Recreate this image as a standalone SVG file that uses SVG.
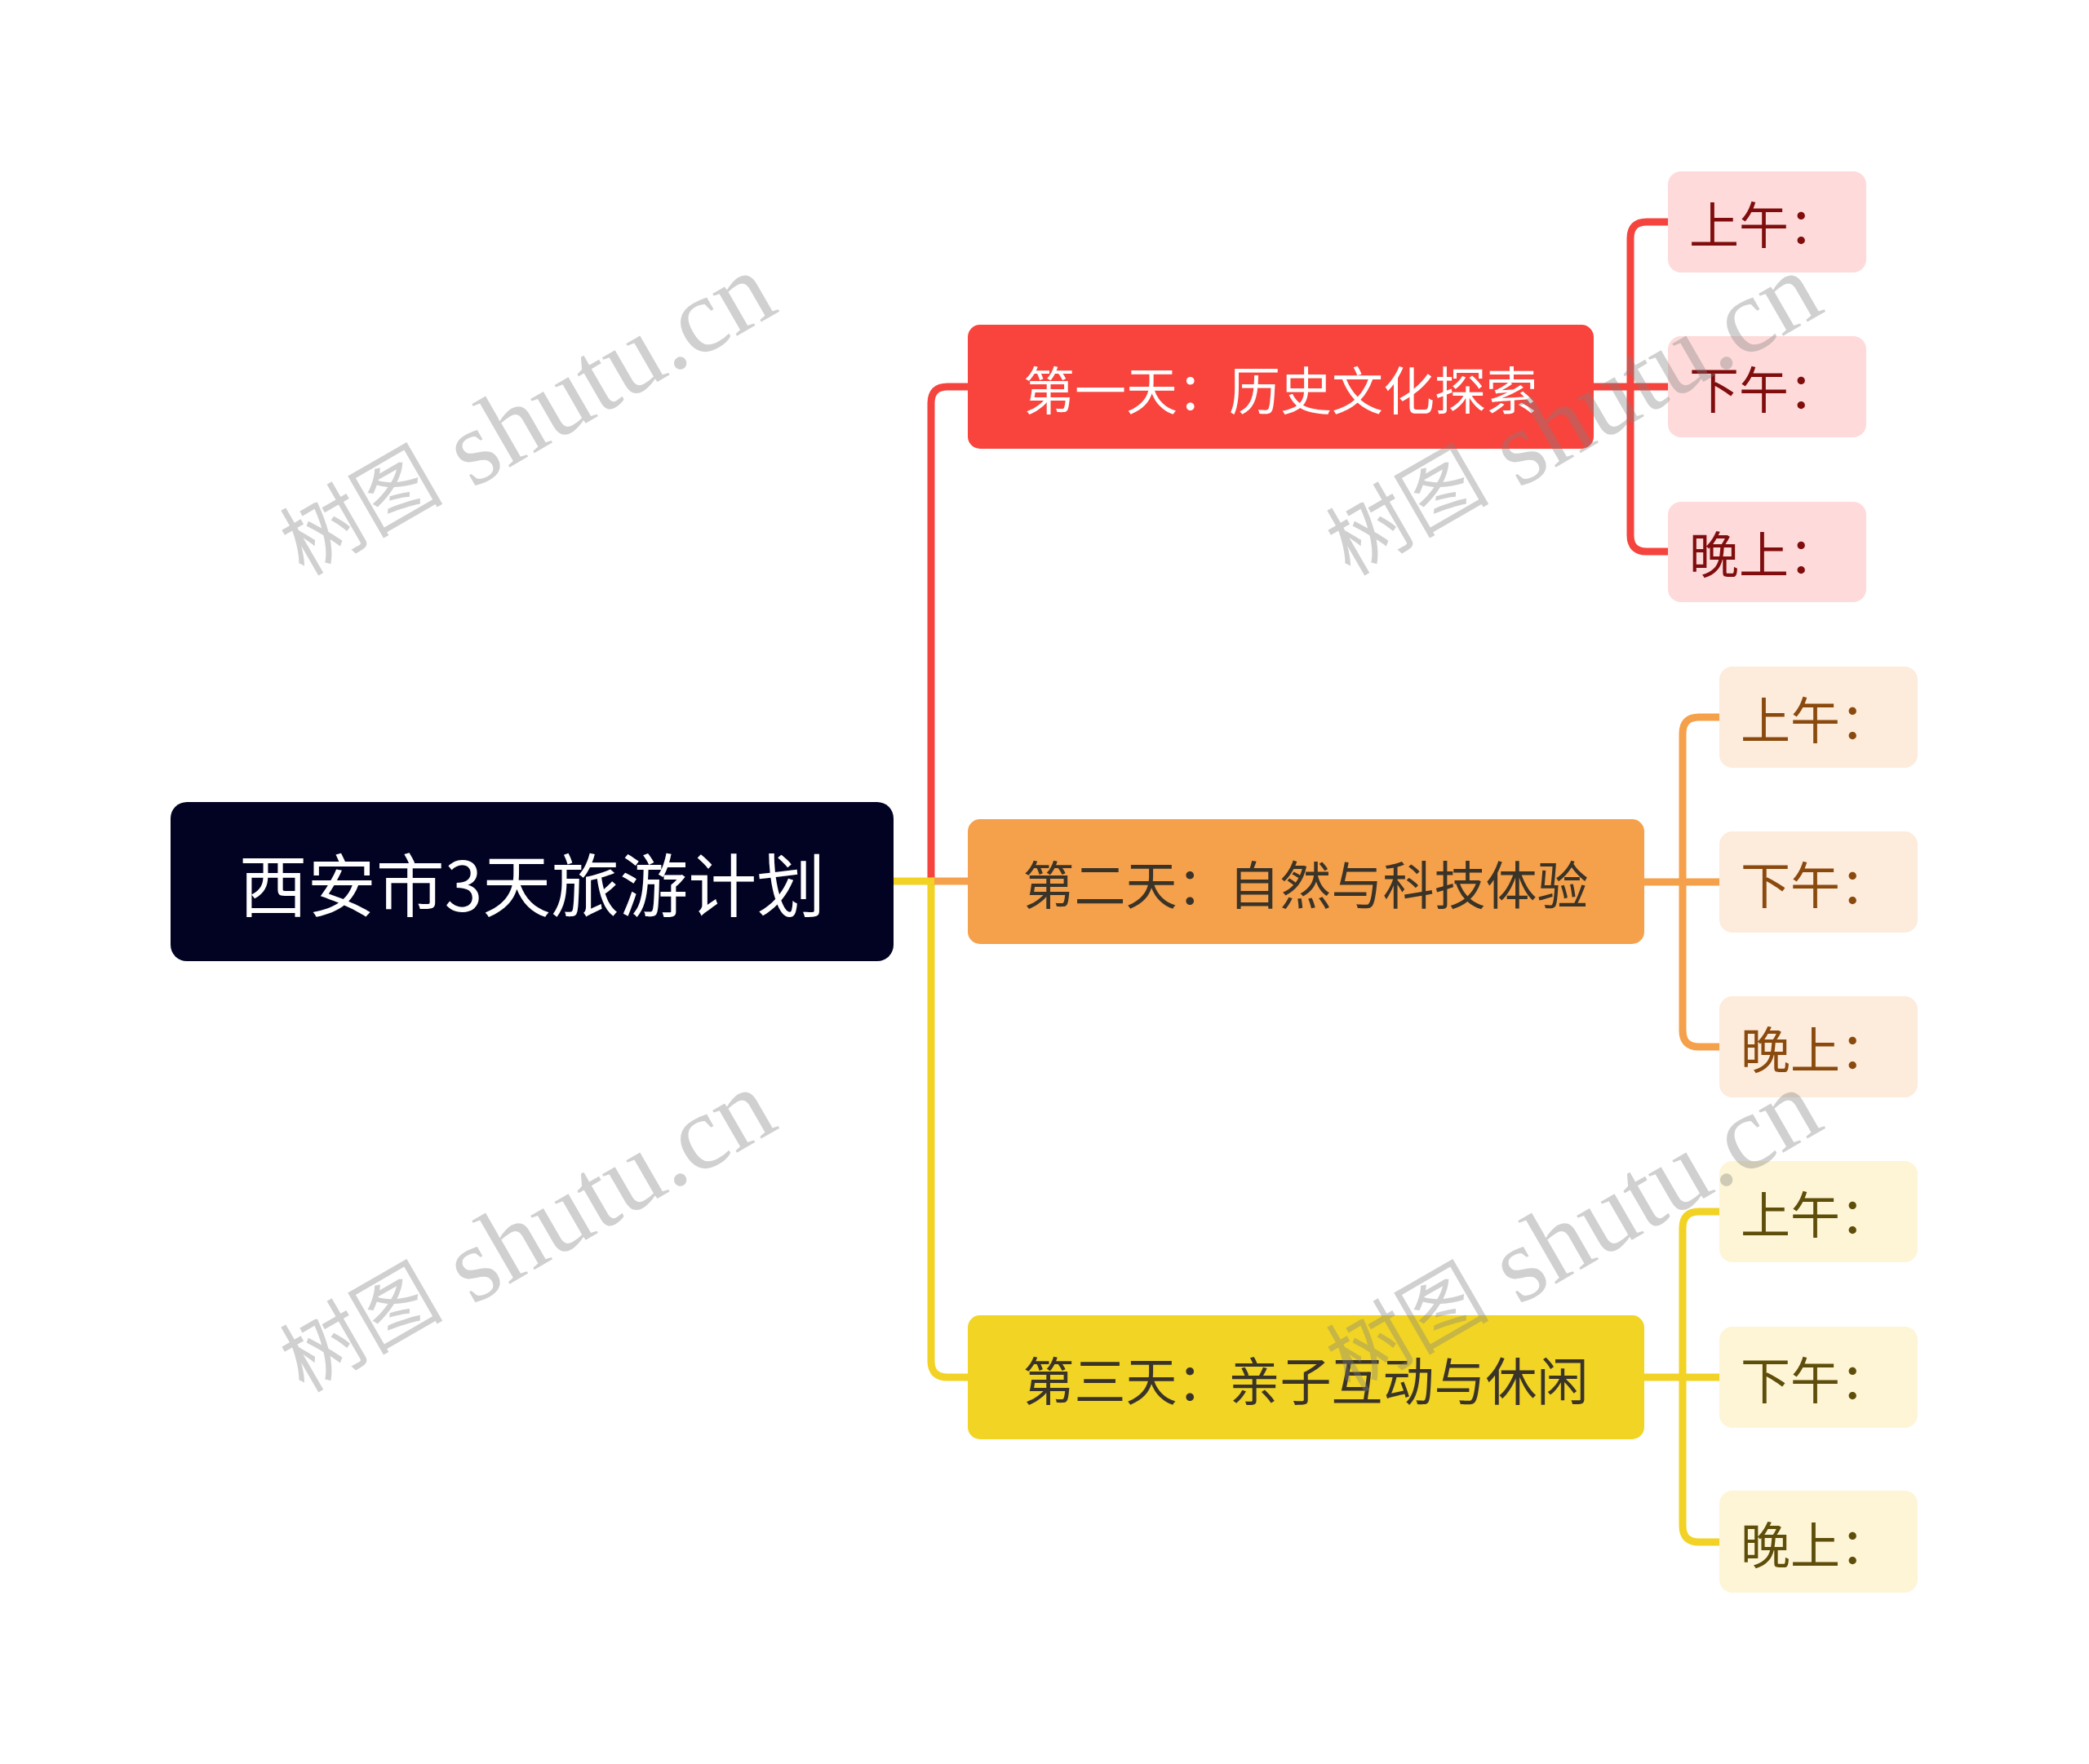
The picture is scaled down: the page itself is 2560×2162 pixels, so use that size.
<svg xmlns="http://www.w3.org/2000/svg" width="2560" height="2162" viewBox="0 0 2560 2162">
<style>
.t{font-family:"Noto Sans CJK SC","Noto Sans",sans-serif;dominant-baseline:central}
.c{fill:none;stroke-width:9;stroke-linejoin:round}
.wm{font-family:"Liberation Serif","Noto Sans CJK SC",serif;font-size:130px;fill:#808080;opacity:0.36;text-anchor:middle;dominant-baseline:central}
.wc{font-size:100px}
</style>
<rect width="2560" height="2162" fill="#ffffff"/>
<g id="connectors">
<path class="c" stroke="#F5443E" d="M1141,1080 V494 Q1141,474 1161,474 H1190"/>
<path class="c" stroke="#F2D224" d="M1141,1080 V1668 Q1141,1688 1161,1688 H1190"/>
<path class="c" stroke="#F5A04B" d="M1141,1080 H1190"/>
<path class="c" stroke="#F2D224" d="M1092,1080 H1145"/>
<path class="c" stroke="#F5443E" d="M1950,474 H2048 M1998,474 V292 Q1998,272 2018,272 H2048 M1998,474 V656 Q1998,676 2018,676 H2048"/>
<path class="c" stroke="#F5A04B" d="M2012,1081 H2110 M2062,1081 V899 Q2062,879 2082,879 H2110 M2062,1081 V1263 Q2062,1283 2082,1283 H2110"/>
<path class="c" stroke="#F2D224" d="M2012,1688 H2110 M2062,1688 V1505 Q2062,1485 2082,1485 H2110 M2062,1688 V1870 Q2062,1890 2082,1890 H2110"/>
</g>
<g id="root">
<rect x="209" y="983" width="886" height="195" rx="20" fill="#020323"/>
<text class="t" x="652" y="1080" font-size="84" fill="#ffffff" text-anchor="middle">西安市3天旅游计划</text>
</g>
<g id="day1">
<rect x="1186" y="398" width="767" height="152" rx="15" fill="#F8443D"/>
<text class="t" x="1569" y="474" font-size="63" fill="#ffffff" text-anchor="middle">第一天：历史文化探索</text>
</g>
<g id="day2">
<rect x="1186" y="1004" width="829" height="153" rx="15" fill="#F5A04B"/>
<text class="t" x="1600" y="1080" font-size="63" fill="#3A3327" text-anchor="middle">第二天：自然与科技体验</text>
</g>
<g id="day3">
<rect x="1186" y="1612" width="829" height="152" rx="15" fill="#F1D424"/>
<text class="t" x="1600" y="1688" font-size="63" fill="#3A3327" text-anchor="middle">第三天：亲子互动与休闲</text>
</g>
<g id="d1-am"><rect x="2044" y="210" width="243" height="124" rx="16" fill="#FEDADA"/><text class="t" x="2070" y="272" font-size="61" fill="#800D0D">上午：</text></g>
<g id="d1-pm"><rect x="2044" y="412" width="243" height="124" rx="16" fill="#FEDADA"/><text class="t" x="2070" y="474" font-size="61" fill="#800D0D">下午：</text></g>
<g id="d1-ev"><rect x="2044" y="615" width="243" height="123" rx="16" fill="#FEDADA"/><text class="t" x="2070" y="676" font-size="61" fill="#800D0D">晚上：</text></g>
<g id="d2-am"><rect x="2107" y="817" width="243" height="124" rx="16" fill="#FDEBDC"/><text class="t" x="2133" y="879" font-size="61" fill="#8A4A0D">上午：</text></g>
<g id="d2-pm"><rect x="2107" y="1019" width="243" height="124" rx="16" fill="#FDEBDC"/><text class="t" x="2133" y="1081" font-size="61" fill="#8A4A0D">下午：</text></g>
<g id="d2-ev"><rect x="2107" y="1221" width="243" height="124" rx="16" fill="#FDEBDC"/><text class="t" x="2133" y="1283" font-size="61" fill="#8A4A0D">晚上：</text></g>
<g id="d3-am"><rect x="2107" y="1423" width="243" height="124" rx="16" fill="#FDF5D6"/><text class="t" x="2133" y="1485" font-size="61" fill="#5E4E0A">上午：</text></g>
<g id="d3-pm"><rect x="2107" y="1626" width="243" height="124" rx="16" fill="#FDF5D6"/><text class="t" x="2133" y="1688" font-size="61" fill="#5E4E0A">下午：</text></g>
<g id="d3-ev"><rect x="2107" y="1827" width="243" height="125" rx="16" fill="#FDF5D6"/><text class="t" x="2133" y="1890" font-size="61" fill="#5E4E0A">晚上：</text></g>
<g id="watermarks">
<text class="wm" transform="translate(645,510) rotate(-30)"><tspan class="wc">树图</tspan> shutu.cn</text>
<text class="wm" transform="translate(1927,510) rotate(-30)"><tspan class="wc">树图</tspan> shutu.cn</text>
<text class="wm" transform="translate(645,1511) rotate(-30)"><tspan class="wc">树图</tspan> shutu.cn</text>
<text class="wm" transform="translate(1927,1511) rotate(-30)"><tspan class="wc">树图</tspan> shutu.cn</text>
</g>
</svg>
